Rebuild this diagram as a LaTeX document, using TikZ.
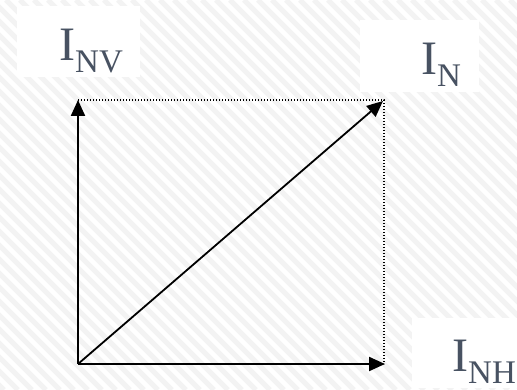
\documentclass[tikz,border=0pt]{standalone}
\usepackage{fontspec}
\setmainfont{Liberation Serif}
\usetikzlibrary{arrows.meta}
\definecolor{labelcol}{RGB}{72,82,98}
\definecolor{stripecol}{RGB}{243,243,243}
\tikzset{
  vec/.style={line width=2.2pt,-{Triangle[length=16pt,width=14pt]}},
  diagvec/.style={line width=1.8pt,-{Triangle[length=16pt,width=14pt]}},
  guide/.style={line width=1.3pt,dash pattern=on 1.3pt off 1.7pt},
  labelbox/.style={fill=white,draw=none,inner sep=0pt,anchor=south west},
  labeltext/.style={text=labelcol,inner sep=0pt,anchor=base west},
}
\newcommand{\bigI}[1]{\fontsize{48}{48}\selectfont I\raisebox{-12pt}{\fontsize{33}{33}\selectfont #1}}
\begin{document}
\begin{tikzpicture}[x=1pt,y=1pt]
\useasboundingbox (0,0) rectangle (517,390);
\fill[white] (0,0) rectangle (517,390);
\begin{scope}
\clip (0,0) rectangle (517,390);
\foreach \x in {-400,-386,...,520} {
  \draw[stripecol,line width=5pt] (\x,390) -- (\x+390,0);
}
\end{scope}
% label boxes
\node[labelbox,minimum width=123pt,minimum height=71pt] (bv) at (17,313) {};
\node[labelbox,minimum width=119pt,minimum height=72pt] (bn) at (360,298) {};
\node[labelbox,minimum width=105pt,minimum height=70pt] (bh) at (412,2) {};
% labels
\node[labeltext] (lv) at (59,329) {\bigI{NV}};
\node[labeltext] (ln) at (421,315) {\bigI{N}};
\node[labeltext] (lh) at (452,18) {\bigI{NH}};
% points
\coordinate (O) at (78,26);
\coordinate (V) at (78,290);
\coordinate (H) at (385,26);
\coordinate (N) at (384,290);
\coordinate (Nt) at (383,289);
% guides
\draw[guide] (V) -- (N) -- (384,26);
% vectors
\draw[vec] (O) -- (V);
\draw[vec] (O) -- (H);
\draw[diagvec] (O) -- (Nt);
\end{tikzpicture}
\end{document}
